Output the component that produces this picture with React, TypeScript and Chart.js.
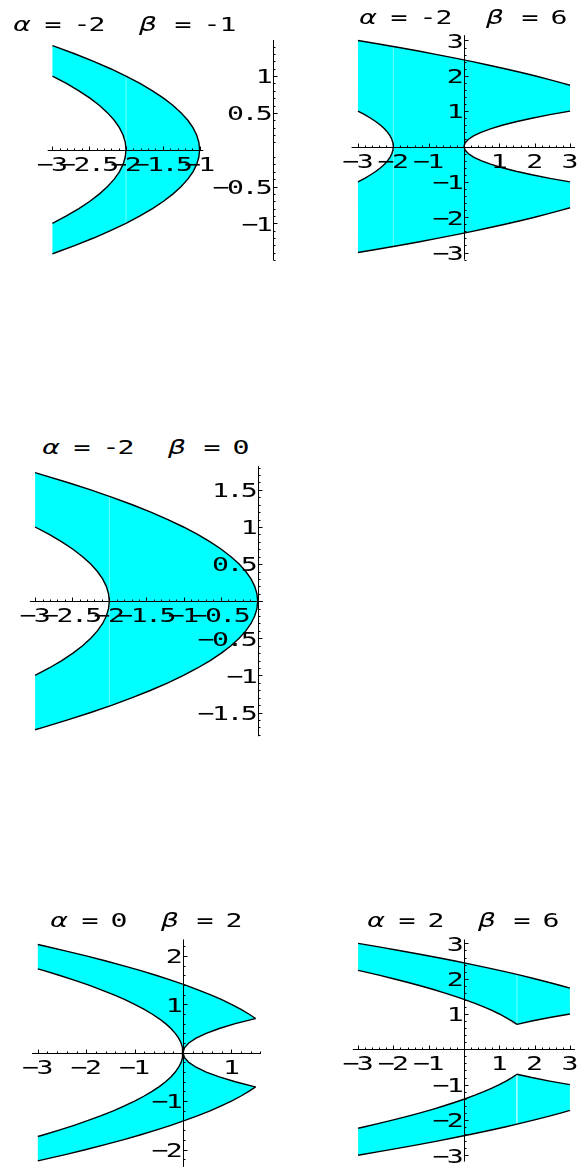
import React, { useEffect, useRef } from 'react';
import { Chart, registerables } from 'chart.js';

Chart.register(...registerables);

type Pt = [number, number];

// ---------- curve data (x, y) ----------
// x = -2 - y^2
const parabM2: Pt[] = [
  [-3, -1], [-2.81, -0.9], [-2.64, -0.8], [-2.49, -0.7], [-2.36, -0.6], [-2.25, -0.5], [-2.16, -0.4],
  [-2.09, -0.3], [-2.04, -0.2], [-2.01, -0.1], [-2, 0], [-2.01, 0.1], [-2.04, 0.2], [-2.09, 0.3],
  [-2.16, 0.4], [-2.25, 0.5], [-2.36, 0.6], [-2.49, 0.7], [-2.64, 0.8], [-2.81, 0.9], [-3, 1],
];
// x = -1 - y^2
const parabM1: Pt[] = [
  [-3, -1.4142], [-2.96, -1.4], [-2.69, -1.3], [-2.44, -1.2], [-2.21, -1.1], [-2, -1], [-1.81, -0.9],
  [-1.64, -0.8], [-1.49, -0.7], [-1.36, -0.6], [-1.25, -0.5], [-1.16, -0.4], [-1.09, -0.3], [-1.04, -0.2],
  [-1.01, -0.1], [-1, 0], [-1.01, 0.1], [-1.04, 0.2], [-1.09, 0.3], [-1.16, 0.4], [-1.25, 0.5], [-1.36, 0.6],
  [-1.49, 0.7], [-1.64, 0.8], [-1.81, 0.9], [-2, 1], [-2.21, 1.1], [-2.44, 1.2], [-2.69, 1.3], [-2.96, 1.4],
  [-3, 1.4142],
];
// x = -y^2
const parab0Upper: Pt[] = [
  [0, 0], [-0.01, 0.1], [-0.04, 0.2], [-0.09, 0.3], [-0.16, 0.4], [-0.25, 0.5], [-0.36, 0.6], [-0.49, 0.7],
  [-0.64, 0.8], [-0.81, 0.9], [-1, 1], [-1.21, 1.1], [-1.44, 1.2], [-1.69, 1.3], [-1.96, 1.4], [-2.25, 1.5],
  [-2.56, 1.6], [-2.89, 1.7], [-3, 1.7321],
];
const parab0Lower: Pt[] = [
  [0, 0], [-0.01, -0.1], [-0.04, -0.2], [-0.09, -0.3], [-0.16, -0.4], [-0.25, -0.5], [-0.36, -0.6], [-0.49, -0.7],
  [-0.64, -0.8], [-0.81, -0.9], [-1, -1], [-1.21, -1.1], [-1.44, -1.2], [-1.69, -1.3], [-1.96, -1.4], [-2.25, -1.5],
  [-2.56, -1.6], [-2.89, -1.7], [-3, -1.7321],
];
// x = 2 - y^2
const parab2Upper: Pt[] = [
  [1.5, 0.7071], [1.36, 0.8], [1.19, 0.9], [1, 1], [0.79, 1.1], [0.56, 1.2], [0.31, 1.3], [0.04, 1.4],
  [-0.25, 1.5], [-0.56, 1.6], [-0.89, 1.7], [-1.24, 1.8], [-1.61, 1.9], [-2, 2], [-2.41, 2.1], [-2.84, 2.2],
  [-3, 2.2361],
];
const parab2Lower: Pt[] = [
  [1.5, -0.7071], [1.36, -0.8], [1.19, -0.9], [1, -1], [0.79, -1.1], [0.56, -1.2], [0.31, -1.3], [0.04, -1.4],
  [-0.25, -1.5], [-0.56, -1.6], [-0.89, -1.7], [-1.24, -1.8], [-1.61, -1.9], [-2, -2], [-2.41, -2.1], [-2.84, -2.2],
  [-3, -2.2361],
];
// x = 6 - y^2
const parab6Upper: Pt[] = [
  [3, 1.7321], [2.76, 1.8], [2.39, 1.9], [2, 2], [1.59, 2.1], [1.16, 2.2], [0.71, 2.3], [0.24, 2.4],
  [-0.25, 2.5], [-0.76, 2.6], [-1.29, 2.7], [-1.84, 2.8], [-2.41, 2.9], [-3, 3],
];
const parab6Lower: Pt[] = [
  [3, -1.7321], [2.76, -1.8], [2.39, -1.9], [2, -2], [1.59, -2.1], [1.16, -2.2], [0.71, -2.3], [0.24, -2.4],
  [-0.25, -2.5], [-0.76, -2.6], [-1.29, -2.7], [-1.84, -2.8], [-2.41, -2.9], [-3, -3],
];
// x = 3 y^2
const cusp3Full: Pt[] = [
  [3, 1], [2.43, 0.9], [1.92, 0.8], [1.47, 0.7], [1.08, 0.6], [0.75, 0.5], [0.48, 0.4], [0.27, 0.3],
  [0.12, 0.2], [0.03, 0.1], [0, 0], [0.03, -0.1], [0.12, -0.2], [0.27, -0.3], [0.48, -0.4], [0.75, -0.5],
  [1.08, -0.6], [1.47, -0.7], [1.92, -0.8], [2.43, -0.9], [3, -1],
];
const cusp3Upper0: Pt[] = [
  [0, 0], [0.03, 0.1], [0.12, 0.2], [0.27, 0.3], [0.48, 0.4], [0.75, 0.5], [1.08, 0.6], [1.47, 0.7], [1.5, 0.7071],
];
const cusp3Lower0: Pt[] = [
  [0, 0], [0.03, -0.1], [0.12, -0.2], [0.27, -0.3], [0.48, -0.4], [0.75, -0.5], [1.08, -0.6], [1.47, -0.7], [1.5, -0.7071],
];
const cusp3Upper1: Pt[] = [[1.5, 0.7071], [1.92, 0.8], [2.43, 0.9], [3, 1]];
const cusp3Lower1: Pt[] = [[1.5, -0.7071], [1.92, -0.8], [2.43, -0.9], [3, -1]];

// faint polygon seams
const seamP1: Pt[] = [[-2, -1], [-2, 1]];
const seamP2: Pt[] = [[-2, -2.8284], [-2, 2.8284]];
const seamP3: Pt[] = [[-2, -1.4142], [-2, 1.4142]];
const seamP5a: Pt[] = [[1.5, 0.7071], [1.5, 2.1213]];
const seamP5b: Pt[] = [[1.5, -0.7071], [1.5, -2.1213]];

// tick values
const p1XTicks = [-3, -2.5, -2, -1.5, -1];
const p1YTicks = [-1, -0.5, 0.5, 1];
const p2XTicks = [-3, -2, -1, 1, 2, 3];
const p2YTicks = [-3, -2, -1, 1, 2, 3];
const p3XTicks = [-3, -2.5, -2, -1.5, -1, -0.5];
const p3YTicks = [-1.5, -1, -0.5, 0.5, 1, 1.5];
const p4XTicks = [-3, -2, -1, 1];
const p4YTicks = [-2, -1, 1, 2];
const p5XTicks = [-3, -2, -1, 1, 2, 3];
const p5YTicks = [-3, -2, -1, 1, 2, 3];

// titles (alpha, beta)
const titles: [string, string][] = [['-2', '-1'], ['-2', '6'], ['-2', '0'], ['0', '2'], ['2', '6']];

const rev = (a: Pt[]) => [...a].reverse();

// ---------- styling / layout ----------
const PITCH = 14.4;
const STRETCH = 1.41;
const FONT = '20px "DejaVu Sans Mono"';
const CYAN = '#00ffff';

const fmt = (v: number) => (v < 0 ? '\u2212' : '') + String(Math.abs(v));

function drawMono(ctx: CanvasRenderingContext2D, text: string, left: number, base: number) {
  for (let i = 0; i < text.length; i++) {
    ctx.save();
    ctx.translate(left + (i + 0.5) * PITCH, base);
    ctx.scale(STRETCH, 1);
    ctx.fillText(text[i], 0, 0);
    ctx.restore();
  }
}

const mmaAxes = {
  id: 'mmaAxes',
  afterDatasetsDraw(chart: any, _args: any, o: any) {
    const ctx: CanvasRenderingContext2D = chart.ctx;
    const sx = chart.scales.x;
    const sy = chart.scales.y;
    const X = (v: number) => sx.getPixelForValue(v);
    const Y = (v: number) => sy.getPixelForValue(v);
    const ax = Math.round(X(0)) + 0.5;
    const ay = Math.round(Y(0)) + 0.5;
    const isMajor = (v: number, list: number[]) => list.some((t) => Math.abs(t - v) < 1e-6);
    ctx.save();
    ctx.strokeStyle = '#000';
    ctx.lineWidth = 1;
    ctx.beginPath();
    ctx.moveTo(X(o.xAxis[0]), ay);
    ctx.lineTo(X(o.xAxis[1]), ay);
    ctx.moveTo(ax, Y(o.yAxis[0]));
    ctx.lineTo(ax, Y(o.yAxis[1]));
    const m = o.minor;
    for (let k = Math.ceil(o.xAxis[0] / m - 1e-9); k <= Math.floor(o.xAxis[1] / m + 1e-9); k++) {
      const v = k * m;
      if (Math.abs(v) < 1e-9) continue;
      const len = isMajor(v, o.xTicks) ? 4 : 2;
      const px = Math.round(X(v)) + 0.5;
      ctx.moveTo(px, ay);
      ctx.lineTo(px, ay - len);
    }
    for (let k = Math.ceil(o.yAxis[0] / m - 1e-9); k <= Math.floor(o.yAxis[1] / m + 1e-9); k++) {
      const v = k * m;
      if (Math.abs(v) < 1e-9) continue;
      const len = isMajor(v, o.yTicks) ? 4 : 2;
      const py = Math.round(Y(v)) + 0.5;
      ctx.moveTo(ax, py);
      ctx.lineTo(ax + len, py);
    }
    ctx.stroke();
    ctx.fillStyle = '#000';
    ctx.font = FONT;
    ctx.textAlign = 'center';
    ctx.textBaseline = 'alphabetic';
    for (const v of o.xTicks) {
      const s = fmt(v);
      drawMono(ctx, s, X(v) - (s.length * PITCH) / 2, ay + 20);
    }
    for (const v of o.yTicks) {
      const s = fmt(v);
      drawMono(ctx, s, ax - 2 - s.length * PITCH, Y(v) + 7.3);
    }
    ctx.restore();
  },
};

interface PanelSpec {
  box: [number, number, number, number];
  origin: [number, number];
  unit: number;
  xAxis: [number, number];
  yAxis: [number, number];
  xTicks: number[];
  yTicks: number[];
  minor: number;
  fills: Pt[][];
  curves: Pt[][];
  seams: Pt[][];
  title: [string, string];
  titleX: number;
  titleBase: number;
}

const panels: PanelSpec[] = [
  {
    box: [0, 34, 290, 236], origin: [273.2, 149.7], unit: 73.6,
    xAxis: [-3.064, -0.95], yAxis: [-1.5, 1.49], xTicks: p1XTicks, yTicks: p1YTicks, minor: 0.1,
    fills: [[...parabM1, ...rev(parabM2)]],
    curves: [parabM1, parabM2], seams: [seamP1],
    title: titles[0], titleX: 21.7, titleBase: 30.7,
  },
  {
    box: [290, 28, 287, 242], origin: [464, 146.5], unit: 35.35,
    xAxis: [-3.18, 3.14], yAxis: [-3.2, 3.15], xTicks: p2XTicks, yTicks: p2YTicks, minor: 0.2,
    fills: [[...rev(parab6Upper), ...cusp3Full, ...parab6Lower, ...parabM2]],
    curves: [parab6Upper, parab6Lower, cusp3Full, parabM2], seams: [seamP2],
    title: titles[1], titleX: 368, titleBase: 24,
  },
  {
    box: [0, 460, 290, 290], origin: [257.7, 601.2], unit: 74.2,
    xAxis: [-3.07, 0.07], yAxis: [-1.82, 1.82], xTicks: p3XTicks, yTicks: p3YTicks, minor: 0.1,
    fills: [[...rev(parab0Lower), ...parab0Upper, ...rev(parabM2)]],
    curves: [[...rev(parab0Lower), ...parab0Upper], parabM2], seams: [seamP3],
    title: titles[2], titleX: 50.5, titleBase: 454,
  },
  {
    box: [0, 930, 290, 237], origin: [183, 1052.7], unit: 48.4,
    xAxis: [-3.12, 1.61], yAxis: [-2.36, 2.34], xTicks: p4XTicks, yTicks: p4YTicks, minor: 0.2,
    fills: [
      [...parab2Upper, ...rev(parab0Upper), ...cusp3Upper0],
      [...parab2Lower, ...rev(parab0Lower), ...cusp3Lower0],
    ],
    curves: [parab2Upper, parab2Lower, parab0Upper, parab0Lower, cusp3Upper0, cusp3Lower0], seams: [],
    title: titles[3], titleX: 59.1, titleBase: 926.7,
  },
  {
    box: [290, 930, 287, 237], origin: [464, 1049.3], unit: 35.3,
    xAxis: [-3.15, 3.14], yAxis: [-3.18, 3.11], xTicks: p5XTicks, yTicks: p5YTicks, minor: 0.2,
    fills: [
      [...rev(parab6Upper), ...rev(cusp3Upper1), ...parab2Upper],
      [...rev(parab6Lower), ...rev(cusp3Lower1), ...parab2Lower],
    ],
    curves: [parab6Upper, parab6Lower, parab2Upper, parab2Lower, cusp3Upper1, cusp3Lower1], seams: [seamP5a, seamP5b],
    title: titles[4], titleX: 375.8, titleBase: 926.7,
  },
];

function Panel({ spec }: { spec: PanelSpec }) {
  const ref = useRef<HTMLCanvasElement>(null);
  const [left, top, w, h] = spec.box;
  useEffect(() => {
    const [ox, oy] = spec.origin;
    const u = spec.unit;
    const toData = (pts: Pt[]) => pts.map(([x, y]) => ({ x, y }));
    const datasets: any[] = [
      ...spec.curves.map((c) => ({
        data: toData(c), showLine: true, borderColor: '#000', borderWidth: 1.4,
        pointRadius: 0, fill: false, order: 0, tension: 0,
      })),
      ...spec.seams.map((c) => ({
        data: toData(c), showLine: true, borderColor: 'rgba(255,255,255,0.45)', borderWidth: 1,
        pointRadius: 0, fill: false, order: 1,
      })),
      ...spec.fills.map((c) => ({
        data: toData(c), showLine: true, borderColor: 'rgba(0,0,0,0)', borderWidth: 0,
        backgroundColor: CYAN, pointRadius: 0, fill: 'shape', order: 2, tension: 0,
      })),
    ];
    const chart = new Chart(ref.current as HTMLCanvasElement, {
      type: 'scatter',
      data: { datasets },
      options: {
        animation: false,
        responsive: false,
        maintainAspectRatio: false,
        events: [],
        layout: { padding: 0 },
        plugins: {
          legend: { display: false },
          tooltip: { enabled: false },
          mmaAxes: {
            xAxis: spec.xAxis, yAxis: spec.yAxis, xTicks: spec.xTicks, yTicks: spec.yTicks, minor: spec.minor,
          },
        } as any,
        scales: {
          x: { type: 'linear', display: false, min: (left - ox) / u, max: (left + w - ox) / u },
          y: { type: 'linear', display: false, min: (oy - top - h) / u, max: (oy - top) / u },
        },
      },
      plugins: [mmaAxes as any],
    });
    return () => chart.destroy();
  }, []);
  return <canvas ref={ref} width={w} height={h} style={{ position: 'absolute', left, top, width: w, height: h }} />;
}

function Title({ spec }: { spec: PanelSpec }) {
  const toks: { t: string; x: number; it?: boolean }[] = [];
  const ax = spec.titleX;
  toks.push({ t: '\u03b1', x: ax, it: true });
  toks.push({ t: '=', x: ax + 31 });
  let x = ax + 60;
  for (const ch of spec.title[0]) { toks.push({ t: ch, x }); x += 15.5; }
  const bx = x - 15.5 + 51;
  toks.push({ t: '\u03b2', x: bx, it: true });
  toks.push({ t: '=', x: bx + 35 });
  x = bx + 64;
  for (const ch of spec.title[1]) { toks.push({ t: ch, x }); x += 15.5; }
  return (
    <>
      {toks.map((k, i) => (
        <span
          key={i}
          style={{
            position: 'absolute',
            left: k.x,
            top: spec.titleBase - 16.9,
            fontFamily: '"DejaVu Sans Mono"',
            fontSize: 20,
            lineHeight: '20px',
            fontStyle: k.it ? 'italic' : 'normal',
            whiteSpace: 'pre',
            transform: `translateX(-50%) scaleX(${STRETCH})`,
            color: '#000',
          }}
        >
          {k.t}
        </span>
      ))}
    </>
  );
}

export default function App() {
  return (
    <div style={{ position: 'absolute', left: 0, top: 0, width: 577, height: 1167, background: '#fff', overflow: 'hidden' }}>
      {panels.map((p, i) => (
        <React.Fragment key={i}>
          <Panel spec={p} />
          <Title spec={p} />
        </React.Fragment>
      ))}
    </div>
  );
}
